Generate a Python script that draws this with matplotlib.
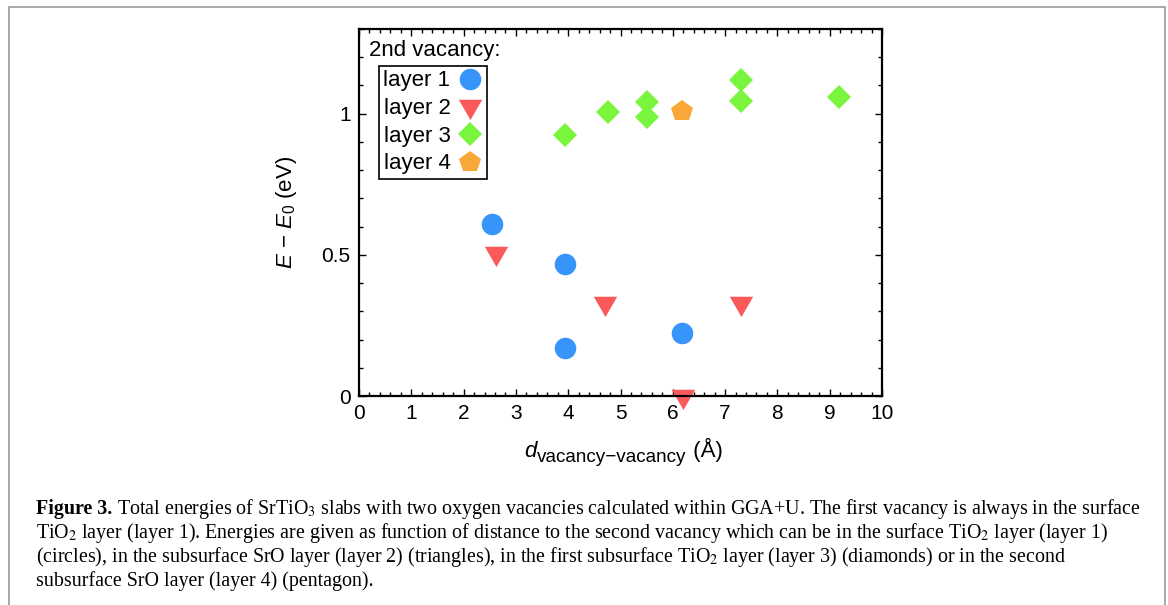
import matplotlib
matplotlib.use('Agg')
import matplotlib.pyplot as plt
from matplotlib.patches import Rectangle
from matplotlib.ticker import MultipleLocator

plt.rcParams['font.family'] = ['Liberation Sans', 'DejaVu Sans']
plt.rcParams['mathtext.fontset'] = 'custom'
plt.rcParams['mathtext.rm'] = 'Liberation Sans'
plt.rcParams['mathtext.it'] = 'Liberation Sans:italic'

# energies (eV) vs vacancy-vacancy distance (A), second vacancy in layer 1..4
layer1_d = [2.55, 3.94, 3.94, 6.18]
layer1_e = [0.610, 0.466, 0.171, 0.224]
layer2_d = [2.61, 4.71, 7.30, 6.19]
layer2_e = [0.507, 0.329, 0.329, 0.0]
layer3_d = [3.93, 4.77, 5.51, 5.51, 7.30, 7.30, 9.18]
layer3_e = [0.925, 1.005, 1.043, 0.988, 1.118, 1.044, 1.058]
layer4_d = [6.17]
layer4_e = [1.010]

labels = ['layer 1', 'layer 2', 'layer 3', 'layer 4']
colors = ['#3794fa', '#fc5a5a', '#78f53c', '#f7a838']

# down triangle with its centroid on the data point (gnuplot style)
tri_down = [(-1, 0.577), (1, 0.577), (0, -1.155), (-1, 0.577)]

caption_bold = 'Figure 3.'
caption_lines = [
    ' Total energies of SrTiO$_3$ slabs with two oxygen vacancies calculated within GGA+U. The first vacancy is always in the surface',
    'TiO$_2$ layer (layer 1). Energies are given as function of distance to the second vacancy which can be in the surface TiO$_2$ layer (layer 1)',
    '(circles), in the subsurface SrO layer (layer 2) (triangles), in the first subsurface TiO$_2$ layer (layer 3) (diamonds) or in the second',
    'subsurface SrO layer (layer 4) (pentagon).',
]

W, H = 1168, 605
fig = plt.figure(figsize=(W / 100, H / 100), dpi=100)
ax = fig.add_axes([359 / W, 1 - 396 / H, (882 - 359) / W, (396 - 29) / H])

ax.plot(layer1_d, layer1_e, ls='none', marker='o', ms=15.5, color=colors[0], mew=0, label=labels[0])
ax.plot(layer2_d, layer2_e, ls='none', marker=tri_down, ms=19.5, color=colors[1], mew=0, label=labels[1], clip_on=False)
ax.plot(layer3_d, layer3_e, ls='none', marker='D', ms=12.2, color=colors[2], mew=0, label=labels[2])
ax.plot(layer4_d, layer4_e, ls='none', marker='p', ms=16, color=colors[3], mew=0, label=labels[3])

ax.set_xlim(0, 10)
ax.set_ylim(0, 1.3)
ax.xaxis.set_major_locator(MultipleLocator(1))
ax.xaxis.set_minor_locator(MultipleLocator(0.2))
ax.yaxis.set_minor_locator(MultipleLocator(0.1))
ax.set_yticks([0, 0.5, 1])
ax.set_yticklabels(['0', '0.5', '1'])
ax.tick_params(which='both', direction='in', top=True, right=True, labelsize=15, width=1.0)
ax.tick_params(which='major', length=5, pad=6)
ax.tick_params(which='minor', length=3)
for s in ax.spines.values():
    s.set_linewidth(1.6)

ax.set_ylabel(r'$E$ $-$ $E_0$ (eV)', fontsize=16, labelpad=16)

fig.text(369 / W, 1 - 56 / H, '2nd vacancy:', fontsize=16, va='baseline')

leg = ax.legend(loc='upper left', bbox_to_anchor=((379 - 359) / 523, (396 - 66) / 367),
                markerfirst=False, fontsize=16, frameon=True, fancybox=False,
                edgecolor='black', framealpha=1, borderpad=0.2, labelspacing=0.3,
                handlelength=1.1, handletextpad=0.35, borderaxespad=0)
leg.get_frame().set_linewidth(1.2)

# x label built from pieces so the subscript can be larger than mathtext allows
fig.canvas.draw()
xl_d = fig.text(524 / W, 1 - 457 / H, 'd', fontsize=16, style='italic', va='baseline')
fig.canvas.draw()
xl_sub = fig.text(xl_d.get_window_extent().x1 / W + 1 / W, 1 - 462 / H, 'vacancy\u2212vacancy',
                  fontsize=13.6, va='baseline')
fig.canvas.draw()
fig.text(xl_sub.get_window_extent().x1 / W, 1 - 457 / H, ' (Å)', fontsize=16, va='baseline')

# caption: bold lead-in, the rest placed right after it
cap_fs = 14.4
t_bold = fig.text(36 / W, 1 - 514 / H, caption_bold, fontsize=cap_fs, fontweight='bold',
                  family='Liberation Serif', va='baseline')
fig.canvas.draw()
bold_end = t_bold.get_window_extent().x1 / W
for i, line in enumerate(caption_lines):
    x0 = bold_end if i == 0 else 36 / W
    fig.text(x0, 1 - (514 + 24 * i) / H, line, fontsize=cap_fs,
             family='Liberation Serif', math_fontfamily='stix', va='baseline')

# grey frame round the figure
fig.add_artist(Rectangle((9 / W, -0.05), (1165 - 9) / W, 1 - 7 / H + 0.05,
                         transform=fig.transFigure, fill=False, edgecolor='#999999', lw=1.2))

fig.savefig('out.png', dpi=100)
